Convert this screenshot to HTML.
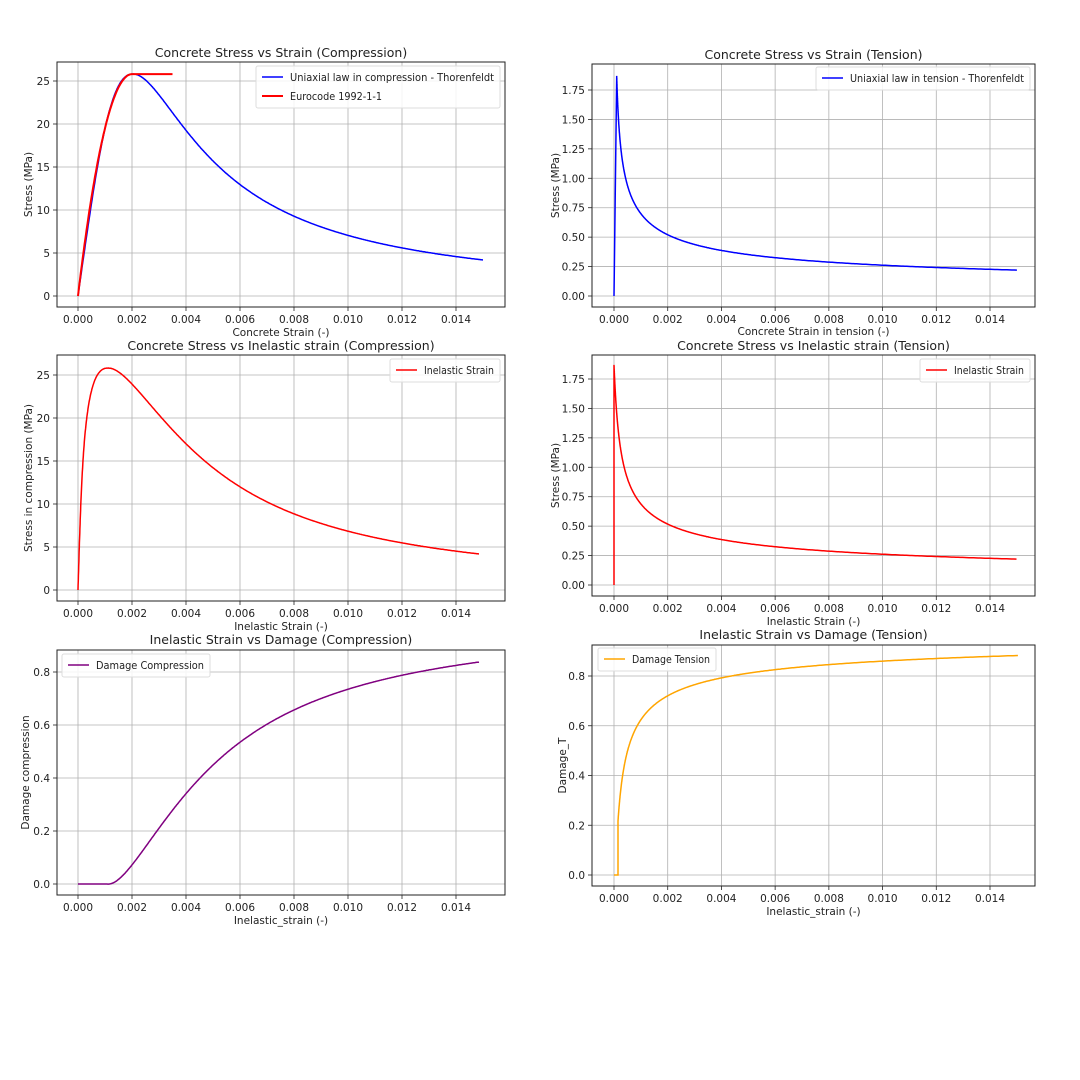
<!DOCTYPE html>
<html><head><meta charset="utf-8"><style>
html,body{margin:0;padding:0;background:#fff;width:1080px;height:1080px;overflow:hidden}
svg text{font-family:"DejaVu Sans","Liberation Sans",sans-serif;fill:#222}
</style></head><body>
<svg id="s" width="1080" height="1080" xmlns="http://www.w3.org/2000/svg"></svg>
<script>
const S=document.getElementById('s');let h='';
function T(x,y,t,sz,anc,rot){h+=`<text x="${x}" y="${y}" font-size="${sz}" text-anchor="${anc||'middle'}"${rot?` transform="rotate(-90 ${x} ${y})"`:''}>${t}</text>`;}
const fc=25.8,e0=0.002,n=2.4,Ec=28000;
function thC(e){const r=e/e0;return fc*n*r/(n-1+Math.pow(r,r>1?2.33:n));}
const ft=1.87,ecr=0.0001,Et=ft/ecr;
function thT(e){return e<=ecr?Et*e:ft*Math.pow(ecr/e,0.427);}
function plot(P){
 const {L,R,Tp,B,x0,x14,y0,yt,ytv,yticks,yfmt}=P;
 const X=v=>x0+v*(x14-x0)/0.014, Y=v=>y0+v*(yt-y0)/ytv;
 for(let i=0;i<=7;i++){const v=i*0.002,px=X(v);h+=`<line x1="${px}" y1="${Tp}" x2="${px}" y2="${B}" stroke="#b0b0b0" stroke-width="0.8"/>`;h+=`<line x1="${px}" y1="${B}" x2="${px}" y2="${B+4}" stroke="#222" stroke-width="0.8"/>`;T(px,B+16,v.toFixed(3),10.5);}
 yticks.forEach(v=>{const py=Y(v);h+=`<line x1="${L}" y1="${py}" x2="${R}" y2="${py}" stroke="#b0b0b0" stroke-width="0.8"/>`;h+=`<line x1="${L-4}" y1="${py}" x2="${L}" y2="${py}" stroke="#222" stroke-width="0.8"/>`;T(L-7,py+4,v.toFixed(yfmt),10.5,'end');});
 P.series.forEach(s=>{h+=`<path d="${s.pts.map((p,i)=>(i?'L':'M')+X(p[0]).toFixed(1)+' '+Y(p[1]).toFixed(1)).join('')}" fill="none" stroke="${s.c}" stroke-width="${s.w||1.5}"/>`;});
 h+=`<rect x="${L}" y="${Tp}" width="${R-L}" height="${B-Tp}" fill="none" stroke="#222" stroke-width="1"/>`;
 T((L+R)/2,P.ty,P.title,12.5);T((L+R)/2,P.xly,P.xl,10.5);T(P.ylx,(Tp+B)/2,P.yl,10.5,'middle',1);
 const lg=P.leg;h+=`<rect x="${lg.x}" y="${lg.y}" width="${lg.w}" height="${lg.items.length*19+4}" rx="2" fill="#fff" fill-opacity="0.85" stroke="#ddd"/>`;
 lg.items.forEach((it,i)=>{const yy=lg.y+11+i*19;h+=`<line x1="${lg.x+6}" y1="${yy}" x2="${lg.x+27}" y2="${yy}" stroke="${it[1]}" stroke-width="${it[2]||1.5}"/>`;h+=`<text x="${lg.x+34}" y="${yy+4}" font-size="10.5"${it[3]?` textLength="${it[3]}" lengthAdjust="spacingAndGlyphs"`:''}>${it[0]}</text>`;});
}
let c1=[],ec=[],t1=[],c3=[],t4=[],c5=[],t6=[];
for(let i=0;i<=600;i++){const e=0.015*i/600;const s=thC(e);c1.push([e,s]);const ie=Math.max(0,e-s/Ec);c3.push([ie,s]);c5.push([ie,e<=e0?0:1-s/fc]);}
for(let i=0;i<=100;i++){const e=0.0035*i/100;const eta=Math.min(e/e0,1),k=2.05;ec.push([e,fc*(k*eta-eta*eta)/(1+(k-2)*eta)]);}
t1.push([0,0]);for(let i=0;i<=800;i++){const e=0.0001*Math.pow(150,i/800);const s=thT(e);t1.push([e,s]);}
t4.push([0,0]);t4.push([0,ft]);for(let i=1;i<=800;i++){const e=0.0001*Math.pow(150,i/800);const s=thT(e);t4.push([Math.max(0,e-s/Et),s]);}
t6.push([0,0]);t6.push([0.00015,0]);for(let i=1;i<=800;i++){const e=0.0001*Math.pow(150,i/800);const s=thT(e);t6.push([Math.max(0.00015,e-s/Et+0.00005),1-s/ft]);}
const yC=[0,5,10,15,20,25],yT=[0,0.25,0.5,0.75,1,1.25,1.5,1.75],yD=[0,0.2,0.4,0.6,0.8];
plot({L:57,R:505,Tp:62,B:307,x0:78,x14:456,y0:296,yt:81,ytv:25,yticks:yC,yfmt:0,title:'Concrete Stress vs Strain (Compression)',ty:57,xl:'Concrete Strain (-)',xly:336,yl:'Stress (MPa)',ylx:32,
 series:[{pts:c1,c:'#0000ff'},{pts:ec,c:'#ff0000',w:2}],leg:{x:256,y:66,w:244,items:[['Uniaxial law in compression - Thorenfeldt','#0000ff',1.5,204],['Eurocode 1992-1-1','#ff0000',2,92]]}});
plot({L:592,R:1035,Tp:64,B:307,x0:614,x14:990,y0:296,yt:90,ytv:1.75,yticks:yT,yfmt:2,title:'Concrete Stress vs Strain (Tension)',ty:59,xl:'Concrete Strain in tension (-)',xly:335,yl:'Stress (MPa)',ylx:559,
 series:[{pts:t1,c:'#0000ff'}],leg:{x:816,y:67,w:214,items:[['Uniaxial law in tension - Thorenfeldt','#0000ff',1.5,174]]}});
plot({L:57,R:505,Tp:355,B:601,x0:78,x14:456,y0:590,yt:375,ytv:25,yticks:yC,yfmt:0,title:'Concrete Stress vs Inelastic strain (Compression)',ty:350,xl:'Inelastic Strain (-)',xly:630,yl:'Stress in compression (MPa)',ylx:32,
 series:[{pts:c3,c:'#ff0000'}],leg:{x:390,y:359,w:110,items:[['Inelastic Strain','#ff0000',1.5,70]]}});
plot({L:592,R:1035,Tp:355,B:596,x0:614,x14:990,y0:585,yt:379,ytv:1.75,yticks:yT,yfmt:2,title:'Concrete Stress vs Inelastic strain (Tension)',ty:350,xl:'Inelastic Strain (-)',xly:625,yl:'Stress (MPa)',ylx:559,
 series:[{pts:t4,c:'#ff0000'}],leg:{x:920,y:359,w:110,items:[['Inelastic Strain','#ff0000',1.5,70]]}});
plot({L:57,R:505,Tp:650,B:895,x0:78,x14:456,y0:884,yt:672,ytv:0.8,yticks:yD,yfmt:1,title:'Inelastic Strain vs Damage (Compression)',ty:644,xl:'Inelastic_strain (-)',xly:924,yl:'Damage compression',ylx:29,
 series:[{pts:c5,c:'#800080'}],leg:{x:62,y:654,w:148,items:[['Damage Compression','#800080',1.5,108]]}});
plot({L:592,R:1035,Tp:645,B:886,x0:614,x14:990,y0:875,yt:676,ytv:0.8,yticks:yD,yfmt:1,title:'Inelastic Strain vs Damage (Tension)',ty:639,xl:'Inelastic_strain (-)',xly:915,yl:'Damage_T',ylx:566,
 series:[{pts:t6,c:'#ffa500'}],leg:{x:598,y:648,w:118,items:[['Damage Tension','#ffa500',1.5,78]]}});
S.innerHTML=h;
</script>
</body></html>
